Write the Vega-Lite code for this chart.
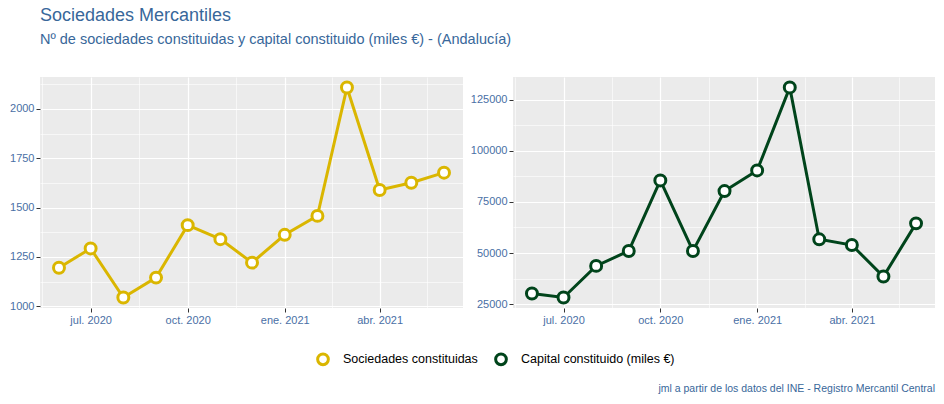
{
  "$schema": "https://vega.github.io/schema/vega-lite/v6.json",
  "background": "white",
  "padding": {"left": 9, "top": 7, "right": 8, "bottom": 6},
  "config": {
    "font": "Liberation Sans",
    "view": {"fill": "#EBEBEB", "stroke": null},
    "axis": {
      "domain": false,
      "title": null,
      "labelFont": "Liberation Sans",
      "labelFontSize": 11,
      "labelColor": "#4A6FA5",
      "tickColor": "#333333",
      "tickSize": 4,
      "labelPadding": 2,
      "gridColor": "#FFFFFF"
    }
  },
  "datasets": {
    "soc": [
      {"fecha": "2020-06-01", "serie": "Sociedades constituidas", "valor": 1195},
      {"fecha": "2020-07-01", "serie": "Sociedades constituidas", "valor": 1293},
      {"fecha": "2020-08-01", "serie": "Sociedades constituidas", "valor": 1044},
      {"fecha": "2020-09-01", "serie": "Sociedades constituidas", "valor": 1145},
      {"fecha": "2020-10-01", "serie": "Sociedades constituidas", "valor": 1411},
      {"fecha": "2020-11-01", "serie": "Sociedades constituidas", "valor": 1340},
      {"fecha": "2020-12-01", "serie": "Sociedades constituidas", "valor": 1221},
      {"fecha": "2021-01-01", "serie": "Sociedades constituidas", "valor": 1362},
      {"fecha": "2021-02-01", "serie": "Sociedades constituidas", "valor": 1458},
      {"fecha": "2021-03-01", "serie": "Sociedades constituidas", "valor": 2109},
      {"fecha": "2021-04-01", "serie": "Sociedades constituidas", "valor": 1589},
      {"fecha": "2021-05-01", "serie": "Sociedades constituidas", "valor": 1626},
      {"fecha": "2021-06-01", "serie": "Sociedades constituidas", "valor": 1677}
    ],
    "cap": [
      {"fecha": "2020-06-01", "serie": "Capital constituido (miles €)", "valor": 30200},
      {"fecha": "2020-07-01", "serie": "Capital constituido (miles €)", "valor": 28250},
      {"fecha": "2020-08-01", "serie": "Capital constituido (miles €)", "valor": 43700},
      {"fecha": "2020-09-01", "serie": "Capital constituido (miles €)", "valor": 51000},
      {"fecha": "2020-10-01", "serie": "Capital constituido (miles €)", "valor": 85500},
      {"fecha": "2020-11-01", "serie": "Capital constituido (miles €)", "valor": 51000},
      {"fecha": "2020-12-01", "serie": "Capital constituido (miles €)", "valor": 80300},
      {"fecha": "2021-01-01", "serie": "Capital constituido (miles €)", "valor": 90400},
      {"fecha": "2021-02-01", "serie": "Capital constituido (miles €)", "valor": 131000},
      {"fecha": "2021-03-01", "serie": "Capital constituido (miles €)", "valor": 56700},
      {"fecha": "2021-04-01", "serie": "Capital constituido (miles €)", "valor": 53900},
      {"fecha": "2021-05-01", "serie": "Capital constituido (miles €)", "valor": 38500},
      {"fecha": "2021-06-01", "serie": "Capital constituido (miles €)", "valor": 64500}
    ]
  },
  "title": {
    "text": "Sociedades Mercantiles",
    "subtitle": "Nº de sociedades constituidas y capital constituido (miles €) - (Andalucía)",
    "anchor": "start",
    "frame": "group",
    "font": "Liberation Sans",
    "fontSize": 18,
    "fontWeight": "normal",
    "color": "#38679A",
    "subtitleFont": "Liberation Sans",
    "subtitleFontSize": 14.5,
    "subtitleColor": "#38679A",
    "subtitlePadding": 8,
    "offset": 29
  },
  "resolve": {"scale": {"color": "independent"}, "legend": {"color": "independent"}},
  "vconcat": [
    {
      "title": {
        "text": "jml a partir de los datos del INE - Registro Mercantil Central",
        "orient": "bottom",
        "anchor": "end",
        "font": "Liberation Sans",
        "fontSize": 10.5,
        "fontWeight": "normal",
        "color": "#38679A",
        "offset": 13
      },
      "spacing": 7,
      "resolve": {"scale": {"color": "shared"}, "legend": {"color": "shared"}},
      "hconcat": [
        {
          "width": 423,
          "height": 231,
          "data": {"name": "soc"},
          "encoding": {
            "x": {
              "field": "fecha",
              "type": "temporal",
              "scale": {"type": "utc", "domain": [{"year": 2020, "month": 5, "date": 14, "utc": true}, {"year": 2021, "month": 6, "date": 19, "utc": true}]},
              "axis": {
                "values": [
                  {"year": 2020, "month": 5, "date": 16, "utc": true},
                  {"year": 2020, "month": 7, "date": 1, "utc": true},
                  {"year": 2020, "month": 8, "date": 16, "utc": true},
                  {"year": 2020, "month": 10, "date": 1, "utc": true},
                  {"year": 2020, "month": 11, "date": 16, "utc": true},
                  {"year": 2021, "month": 1, "date": 1, "utc": true},
                  {"year": 2021, "month": 2, "date": 15, "utc": true},
                  {"year": 2021, "month": 4, "date": 1, "utc": true},
                  {"year": 2021, "month": 5, "date": 16, "utc": true}
                ],
                "labelExpr": "utcdate(datum.value) == 1 ? ['ene.','feb.','mar.','abr.','may.','jun.','jul.','ago.','sep.','oct.','nov.','dic.'][utcmonth(datum.value)] + ' ' + utcyear(datum.value) : ''",
                "gridWidth": {"condition": {"test": "utcdate(datum.value) == 1", "value": 1.2}, "value": 0.6},
                "tickOpacity": {"condition": {"test": "utcdate(datum.value) == 1", "value": 1}, "value": 0}
              }
            },
            "y": {
              "field": "valor",
              "type": "quantitative",
              "scale": {"domain": [991, 2162], "nice": false, "zero": false},
              "axis": {
                "values": [1000, 1125, 1250, 1375, 1500, 1625, 1750, 1875, 2000, 2125],
                "format": "d",
                "labelExpr": "datum.value % 250 == 0 ? datum.label : ''",
                "gridWidth": {"condition": {"test": "datum.value % 250 == 0", "value": 1.2}, "value": 0.6},
                "tickOpacity": {"condition": {"test": "datum.value % 250 == 0", "value": 1}, "value": 0}
              }
            },
            "color": {
              "field": "serie",
              "type": "nominal",
              "scale": {"domain": ["Sociedades constituidas", "Capital constituido (miles €)"], "range": ["#DAB600", "#00441B"]},
              "legend": {
                "title": null,
                "orient": "none",
                "direction": "horizontal",
                "legendX": 276,
                "legendY": 275,
                "symbolType": "circle",
                "symbolSize": 115,
                "symbolStrokeWidth": 3,
                "symbolFillColor": "white",
                "labelFont": "Liberation Sans",
                "labelFontSize": 12.5,
                "labelColor": "#000000",
                "labelOffset": 13,
                "columnPadding": 11,
                "encode": {"symbols": {"update": {"fill": {"value": "white"}, "strokeWidth": {"value": 3}, "opacity": {"value": 1}}}}
              }
            }
          },
          "layer": [
            {"mark": {"type": "line", "strokeWidth": 3}},
            {"mark": {"type": "point", "fill": "white", "size": 120, "strokeWidth": 3, "opacity": 1}}
          ]
        },
        {
          "width": 422,
          "height": 231,
          "data": {"name": "cap"},
          "encoding": {
            "x": {
              "field": "fecha",
              "type": "temporal",
              "scale": {"type": "utc", "domain": [{"year": 2020, "month": 5, "date": 14, "utc": true}, {"year": 2021, "month": 6, "date": 19, "utc": true}]},
              "axis": {
                "values": [
                  {"year": 2020, "month": 5, "date": 16, "utc": true},
                  {"year": 2020, "month": 7, "date": 1, "utc": true},
                  {"year": 2020, "month": 8, "date": 16, "utc": true},
                  {"year": 2020, "month": 10, "date": 1, "utc": true},
                  {"year": 2020, "month": 11, "date": 16, "utc": true},
                  {"year": 2021, "month": 1, "date": 1, "utc": true},
                  {"year": 2021, "month": 2, "date": 15, "utc": true},
                  {"year": 2021, "month": 4, "date": 1, "utc": true},
                  {"year": 2021, "month": 5, "date": 16, "utc": true}
                ],
                "labelExpr": "utcdate(datum.value) == 1 ? ['ene.','feb.','mar.','abr.','may.','jun.','jul.','ago.','sep.','oct.','nov.','dic.'][utcmonth(datum.value)] + ' ' + utcyear(datum.value) : ''",
                "gridWidth": {"condition": {"test": "utcdate(datum.value) == 1", "value": 1.2}, "value": 0.6},
                "tickOpacity": {"condition": {"test": "utcdate(datum.value) == 1", "value": 1}, "value": 0}
              }
            },
            "y": {
              "field": "valor",
              "type": "quantitative",
              "scale": {"domain": [23100, 136100], "nice": false, "zero": false},
              "axis": {
                "values": [25000, 37500, 50000, 62500, 75000, 87500, 100000, 112500, 125000],
                "format": "d",
                "labelExpr": "datum.value % 25000 == 0 ? datum.label : ''",
                "gridWidth": {"condition": {"test": "datum.value % 25000 == 0", "value": 1.2}, "value": 0.6},
                "tickOpacity": {"condition": {"test": "datum.value % 25000 == 0", "value": 1}, "value": 0}
              }
            },
            "color": {
              "field": "serie",
              "type": "nominal",
              "scale": {"domain": ["Sociedades constituidas", "Capital constituido (miles €)"], "range": ["#DAB600", "#00441B"]}
            }
          },
          "layer": [
            {"mark": {"type": "line", "strokeWidth": 3}},
            {"mark": {"type": "point", "fill": "white", "size": 120, "strokeWidth": 3, "opacity": 1}}
          ]
        }
      ]
    }
  ]
}
